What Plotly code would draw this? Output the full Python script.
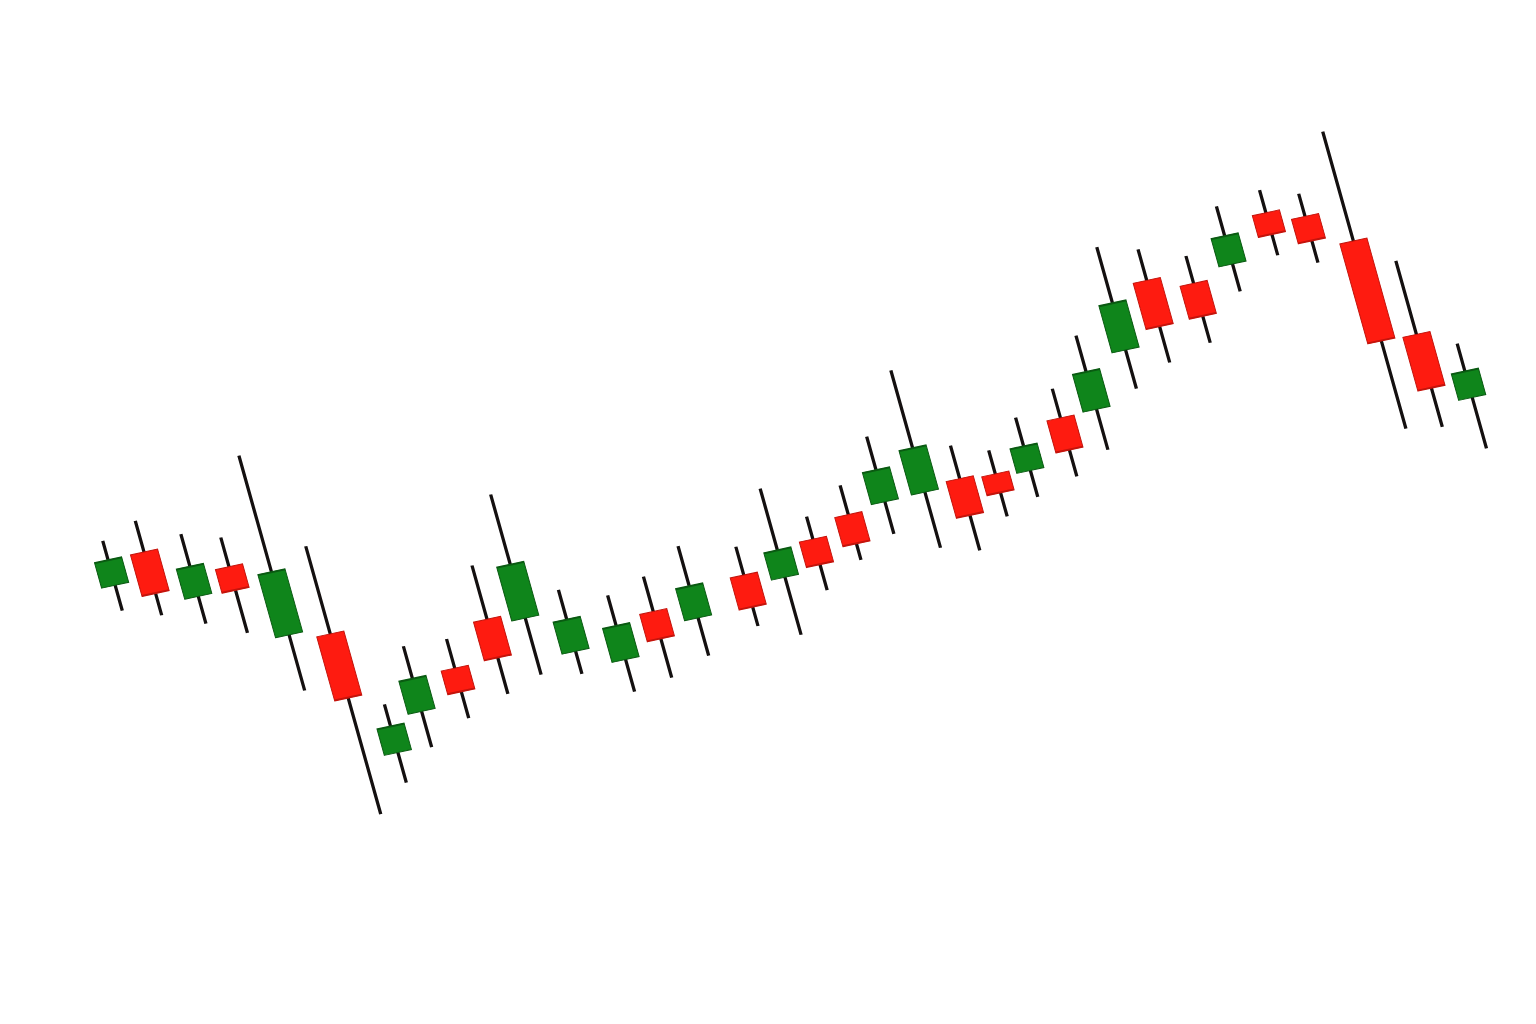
import plotly.graph_objects as go

# ---- data ----
# candle positions along the time axis (slightly irregular in the reference)
pos = [0.00, 0.92, 1.93, 2.87, 3.86, 4.86, 5.69, 6.54, 7.63, 8.74,
       9.67, 10.66, 11.81, 12.80, 13.84, 15.23, 16.21, 17.14, 18.16, 19.13,
       20.16, 21.09, 21.98, 22.85, 23.93, 24.86, 25.96, 26.94, 28.05, 29.12,
       30.27, 31.19, 32.19, 33.08, 34.00]
opens = [39.0, 41.7, 36.1, 38.4, 30.3, 29.5, 16.2, 19.8, 23.4, 27.6,
         26.9, 22.5, 20.6, 24.8, 23.2, 26.5, 25.4, 28.6, 30.3, 30.8,
         30.9, 31.5, 31.2, 30.8, 35.4, 35.5, 40.8, 47.3, 46.0, 47.1,
         51.5, 50.3, 46.8, 36.1, 28.6]
highs = [43.7, 45.0, 42.7, 41.5, 49.3, 38.8, 21.3, 26.7, 26.5, 33.3,
         40.0, 29.0, 27.4, 28.5, 30.8, 29.5, 34.8, 31.0, 33.4, 37.7,
         43.8, 35.0, 33.7, 36.4, 38.5, 43.3, 51.7, 50.6, 48.9, 53.2,
         53.9, 52.7, 58.4, 43.9, 34.3]
lows = [36.3, 35.0, 33.2, 31.4, 24.4, 10.4, 13.0, 16.0, 18.1, 19.7,
        20.9, 20.1, 17.2, 17.8, 19.2, 21.1, 19.3, 23.2, 25.5, 27.4,
        25.0, 23.9, 26.7, 28.0, 29.2, 31.2, 36.7, 38.6, 39.7, 44.2,
        47.0, 45.4, 26.9, 26.3, 23.2]
closes = [41.7, 37.3, 39.3, 35.9, 37.0, 22.7, 19.0, 23.3, 20.9, 23.5,
          32.6, 25.9, 24.2, 21.9, 26.6, 23.1, 28.3, 25.9, 27.2, 34.2,
          35.6, 27.6, 29.2, 33.4, 32.0, 39.5, 45.8, 42.4, 42.5, 50.1,
          49.2, 47.7, 36.2, 30.4, 31.4]

GREEN = "#0f851b"
GREEN_EDGE = "#0a5a12"
RED = "#fe1b10"
RED_EDGE = "#c4140c"
WICK = "#141010"

mids = [(o + c) / 2 for o, c in zip(opens, closes)]
body_hi = [max(o, c) for o, c in zip(opens, closes)]
body_lo = [min(o, c) for o, c in zip(opens, closes)]

fig = go.Figure()
# wicks (body collapsed to its middle, hidden under the real body)
fig.add_trace(go.Candlestick(
    x=pos, open=mids, high=highs, low=lows, close=mids,
    increasing=dict(line=dict(color=WICK, width=3.4), fillcolor=WICK),
    decreasing=dict(line=dict(color=WICK, width=3.4), fillcolor=WICK),
    hoverinfo="skip", showlegend=False,
))
# bodies
fig.add_trace(go.Candlestick(
    x=pos, open=opens, high=body_hi, low=body_lo, close=closes,
    increasing=dict(line=dict(color=GREEN_EDGE, width=1), fillcolor=GREEN),
    decreasing=dict(line=dict(color=RED_EDGE, width=1), fillcolor=RED),
    showlegend=False,
))

fig.update_layout(
    width=1536, height=1024,
    margin=dict(l=0, r=0, t=0, b=0),
    paper_bgcolor="white", plot_bgcolor="white",
    boxgap=0.165, boxgroupgap=0,
    showlegend=False,
    xaxis=dict(range=[-1.237, 35.81], visible=False, rangeslider=dict(visible=False),
               fixedrange=True),
    yaxis=dict(range=[-2.4, 100], visible=False, fixedrange=True),
)

# tilt of the whole drawing as seen in the reference
post = """
document.documentElement.style.overflow='hidden';
document.body.style.margin='0';
document.body.style.overflow='hidden';
var gd=document.getElementById('{plot_id}');
gd.style.transformOrigin='0 0';
gd.style.transform='matrix(0.9432,-0.2028,0.2641,0.9432,-94.32,20.28)';
"""
fig.write_html("out.html", post_script=post,
               config=dict(displayModeBar=False, staticPlot=True))
